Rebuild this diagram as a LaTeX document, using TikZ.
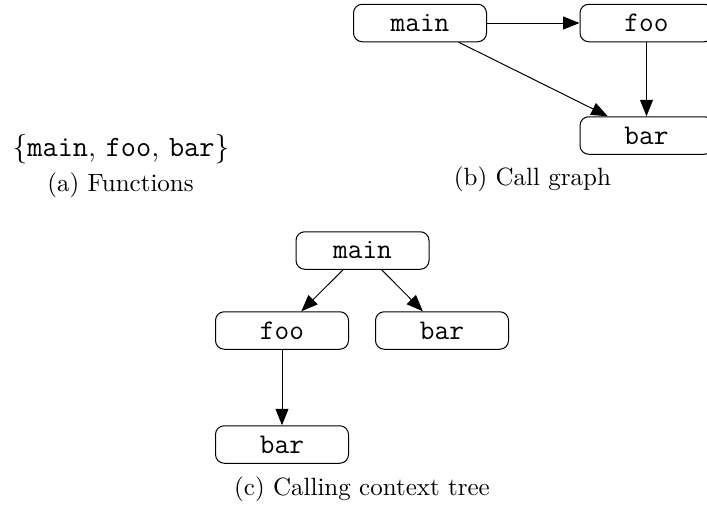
\documentclass[tikz,border=0pt]{standalone}
\usepackage{fontspec}
\usetikzlibrary{arrows.meta}
\begin{document}
\begin{tikzpicture}[x=0.4pt,y=-0.4pt,
  fn/.style={draw, line width=0.4pt, rounded corners=3.5pt,
    minimum width=53.2pt, minimum height=15pt, inner sep=0pt,
    font=\fontsize{11.4}{13}\ttfamily},
  call/.style={-{Triangle[length=6.6pt,width=5.2pt]}, line width=0.4pt},
  subcaption/.style={anchor=base, inner sep=0pt, font=\fontsize{10}{12}\selectfont}]
\useasboundingbox (0,0) rectangle (707,507);
\clip (0,0) rectangle (707,507);

% (a) the set of functions
\node[anchor=base, inner sep=0pt, font=\fontsize{11.8}{14}\selectfont] (fns) at (121,156)
  {\{\texttt{main}, \texttt{foo}, \texttt{bar}\}};
\node[subcaption] (capa) at (120.5,191) {(a) Functions};

% (b) call graph
\node[fn] (gmain) at (420,23) {main};
\node[fn] (gfoo) at (646.5,23) {foo};
\node[fn] (gbar) at (646.5,135.5) {bar};
\draw[call] (gmain) -- (gfoo);
\draw[call] (gmain) -- (gbar);
\draw[call] (gfoo) -- (gbar);
\node[subcaption] (capb) at (532.5,185) {(b) Call graph};

% (c) calling context tree
\node[fn] (tmain) at (362.5,250.5) {main};
\node[fn] (tfoo) at (282,330.5) {foo};
\node[fn] (tbar) at (442,330.5) {bar};
\node[fn] (tbarb) at (282,444.5) {bar};
\draw[call] (tmain) -- (tfoo);
\draw[call] (tmain) -- (tbar);
\draw[call] (tfoo) -- (tbarb);
\node[subcaption] (capc) at (362,495) {(c) Calling context tree};
\end{tikzpicture}
\end{document}
